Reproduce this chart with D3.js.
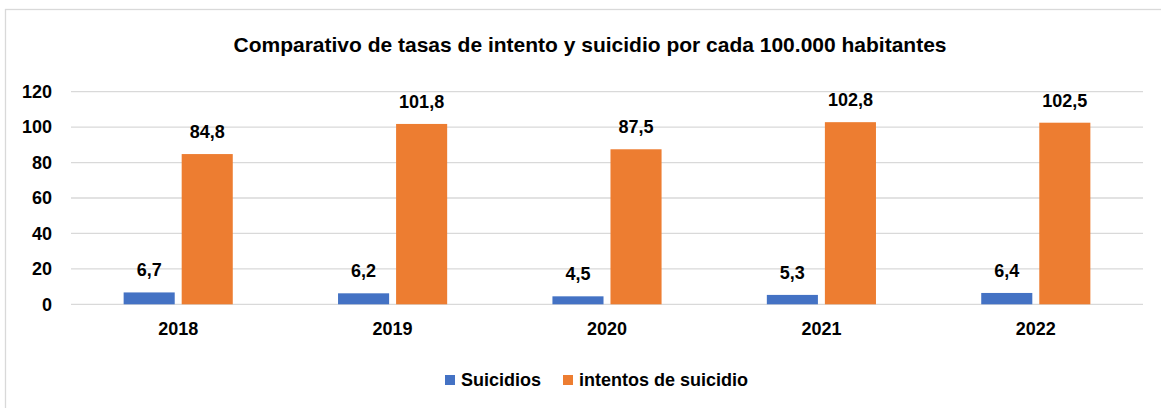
<!DOCTYPE html>
<html>
<head>
<meta charset="utf-8">
<script src="https://cdn.jsdelivr.net/npm/d3@7"></script>
<style>
  body { margin: 0; background: #fff; }
  text { font-family: "Liberation Sans Narrow", "Arial Narrow", "Liberation Sans", Arial, sans-serif; font-weight: bold; fill: #000; }
</style>
</head>
<body>
<div id="chart"></div>
<script>
var years = ['2018', '2019', '2020', '2021', '2022']
var suicidios = [6.7, 6.2, 4.5, 5.3, 6.4]
var intentos = [84.8, 101.8, 87.5, 102.8, 102.5]
var yTicks = [0, 20, 40, 60, 80, 100, 120]
var seriesNames = ['Suicidios', 'intentos de suicidio']
var colors = ['#4472C4', '#ED7D31']

var W = 1161, H = 408
var margin = {top: 91.7, right: 18, bottom: 103.7, left: 71},
    width = W - margin.left - margin.right,
    height = H - margin.top - margin.bottom

var svg = d3.select('#chart').append('svg')
    .attr('width', W)
    .attr('height', H)

// chart frame
svg.append('rect')
    .attr('x', 5.5).attr('y', 9.5)
    .attr('width', W + 20).attr('height', H + 20)
    .attr('fill', 'none')
    .attr('stroke', '#d9d9d9')
    .attr('stroke-width', 1.3)

svg.append('text')
    .attr('x', 590)
    .attr('y', 52)
    .attr('text-anchor', 'middle')
    .style('font-size', '21px')
    .text('Comparativo de tasas de intento y suicidio por cada 100.000 habitantes')

var g = svg.append('g')
    .attr('transform', 'translate(' + margin.left + ',' + margin.top + ')')

var y = d3.scaleLinear().domain([0, 120]).range([height, 0])
var x0 = d3.scaleBand().domain(years).range([0, width]).paddingInner(0).paddingOuter(0)
var x1 = d3.scaleBand().domain([0, 1]).range([x0.bandwidth() * 0.2455, x0.bandwidth() * 0.7545]).paddingInner(0.12)

// grid
g.selectAll('.grid')
    .data(yTicks)
  .enter().append('line')
    .attr('x1', 0).attr('x2', width)
    .attr('y1', function(d) { return y(d) }).attr('y2', function(d) { return y(d) })
    .attr('stroke', '#d9d9d9')
    .attr('stroke-width', 1.3)

var yAxis = g.append('g')
    .call(d3.axisLeft(y).tickValues(yTicks).tickSize(0).tickPadding(19).tickFormat(d3.format('d')))
yAxis.select('.domain').remove()
yAxis.selectAll('text').style('font-size', '18px')

var xAxis = g.append('g')
    .attr('transform', 'translate(0,' + height + ')')
    .call(d3.axisBottom(x0).tickSize(0).tickPadding(18))
xAxis.select('.domain').remove()
xAxis.selectAll('text').style('font-size', '18px')

var series = [suicidios, intentos]
var fmt = function(v) { return d3.format('.1f')(v).replace('.', ',') }

series.forEach(function(vals, s) {
  var grp = g.append('g')
  grp.selectAll('rect')
      .data(vals)
    .enter().append('rect')
      .attr('x', function(d, i) { return x0(years[i]) + x1(s) })
      .attr('y', function(d) { return y(d) })
      .attr('width', x1.bandwidth())
      .attr('height', function(d) { return height - y(d) })
      .attr('fill', colors[s])

  grp.selectAll('text')
      .data(vals)
    .enter().append('text')
      .attr('x', function(d, i) { return x0(years[i]) + x1(s) + x1.bandwidth() / 2 })
      .attr('y', function(d) { return y(d) - 16 })
      .attr('text-anchor', 'middle')
      .style('font-size', '18px')
      .text(fmt)
})

// legend
var legend = svg.append('g').attr('transform', 'translate(0,380)')
var lx = [445, 563]
seriesNames.forEach(function(name, i) {
  legend.append('rect')
      .attr('x', lx[i]).attr('y', -5)
      .attr('width', 10).attr('height', 10)
      .attr('fill', colors[i])
  legend.append('text')
      .attr('x', lx[i] + 16)
      .attr('y', 0)
      .attr('dy', '0.35em')
      .style('font-size', '18px')
      .text(name)
})
</script>
</body>
</html>
